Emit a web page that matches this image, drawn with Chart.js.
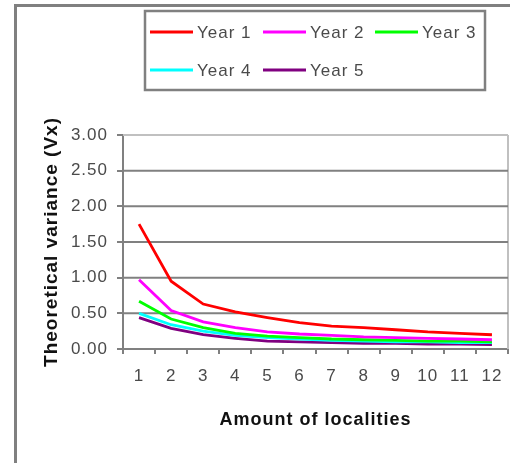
<!DOCTYPE html>
<html><head><meta charset="utf-8">
<script src="https://cdn.jsdelivr.net/npm/chart.js@4/dist/chart.umd.min.js"></script>
<style>html,body{margin:0;padding:0;background:#fff;overflow:hidden}#wrap{position:relative;width:510px;height:463px}</style>
</head><body><div id="wrap"><canvas id="c" width="510" height="463"></canvas></div>
<script>
const categories = ['1','2','3','4','5','6','7','8','9','10','11','12'];
const seriesNames = ['Year 1','Year 2','Year 3','Year 4','Year 5'];
const year1 = [1.75, 0.95, 0.63, 0.52, 0.44, 0.37, 0.32, 0.30, 0.27, 0.24, 0.22, 0.20];
const year2 = [0.97, 0.54, 0.38, 0.30, 0.24, 0.21, 0.19, 0.17, 0.16, 0.15, 0.14, 0.13];
const year3 = [0.67, 0.42, 0.30, 0.22, 0.18, 0.16, 0.14, 0.13, 0.12, 0.11, 0.11, 0.10];
const year4 = [0.50, 0.34, 0.25, 0.19, 0.16, 0.14, 0.12, 0.11, 0.10, 0.10, 0.09, 0.09];
const year5 = [0.44, 0.29, 0.20, 0.15, 0.11, 0.10, 0.09, 0.08, 0.08, 0.07, 0.07, 0.06];
const seriesValues = [year1, year2, year3, year4, year5];
const seriesColors = ['#ff0000','#ff00ff','#00ff00','#00ffff','#800080'];
const yMin = 0, yMax = 3, yStep = 0.5;
const gridValues = [0.5, 1.0, 1.5, 2.0, 2.5, 3.0];
const xTitle = 'Amount of localities';
const yTitle = 'Theoretical variance (Vx)';

const F = '"Liberation Sans", Arial, sans-serif';
const TXT = '#4a4a4a';

const spacing = {
  id: 'spacing',
  beforeUpdate(chart){ chart.ctx.letterSpacing = '1px'; },
  beforeLayout(chart){ chart.ctx.letterSpacing = '1px'; },
  beforeDraw(chart){ chart.ctx.letterSpacing = '1px'; }
};

const frame = {
  id: 'frame',
  beforeDraw(chart){
    const c = chart.ctx;
    c.save();
    c.fillStyle = '#fff';
    c.fillRect(0, 0, chart.width, chart.height);
    c.strokeStyle = '#808080';
    c.lineWidth = 3;
    c.strokeRect(15.5, 5.5, 700, 700);
    c.restore();
  }
};

const legendBox = {
  id: 'legendBox',
  afterDraw(chart){
    const c = chart.ctx;
    c.save();
    c.strokeStyle = '#808080';
    c.lineWidth = 2.5;
    c.strokeRect(145, 11, 340, 79);
    const cols = [150, 263, 375];
    const rows = [32, 70];
    c.font = '17px ' + F;
    c.textBaseline = 'middle';
    c.textAlign = 'left';
    chart.data.datasets.slice(0, seriesNames.length).forEach((ds, i) => {
      const x = cols[i % 3], y = rows[Math.floor(i / 3)];
      c.strokeStyle = ds.borderColor;
      c.lineWidth = 3;
      c.beginPath(); c.moveTo(x, y); c.lineTo(x + 43, y); c.stroke();
      c.fillStyle = TXT;
      c.fillText(ds.label, x + 47, y + 1);
    });
    c.restore();
  }
};

const seriesDatasets = seriesNames.map((n, i) => ({
  label: n, data: seriesValues[i], xAxisID: 'x', order: 0,
  borderColor: seriesColors[i], backgroundColor: seriesColors[i],
  borderWidth: 2.8, pointRadius: 0, pointHoverRadius: 0, tension: 0, fill: false
}));
// gridlines drawn through the y scale on a hidden 0..1 horizontal helper axis
const gridDatasets = gridValues.map(v => ({
  label: 'grid ' + v, data: [{ x: 0, y: v }, { x: 1, y: v }], xAxisID: 'xg', order: 10,
  borderColor: v === yMax ? '#c0c0c0' : '#808080', borderWidth: 2,
  pointRadius: 0, pointHoverRadius: 0, tension: 0, fill: false, clip: false
}));
const borderDataset = {
  label: 'plot border', data: [{ x: 1, y: yMin }, { x: 1, y: yMax }], xAxisID: 'xg', order: 10,
  borderColor: '#c0c0c0', borderWidth: 2, pointRadius: 0, pointHoverRadius: 0, fill: false, clip: false
};

new Chart(document.getElementById('c'), {
  type: 'line',
  data: { labels: categories, datasets: [...seriesDatasets, ...gridDatasets, borderDataset] },
  options: {
    responsive: false, animation: false, devicePixelRatio: 1,
    layout: { padding: { left: 36, right: 2, top: 135, bottom: 28 } },
    plugins: { legend: { display: false }, tooltip: { enabled: false } },
    scales: {
      x: {
        type: 'category', offset: true,
        grid: { offset: true, drawOnChartArea: false, tickColor: '#808080', lineWidth: 2, tickWidth: 2, tickLength: 5 },
        border: { display: true, color: '#808080', width: 2 },
        ticks: { font: { size: 17, family: F }, color: TXT, padding: 12, maxRotation: 0, autoSkip: false },
        title: { display: true, text: xTitle, font: { size: 18, weight: 'bold', family: F }, color: '#111', padding: { top: 22, bottom: 4 } },
        afterFit: s => { s.height = 86; s.paddingLeft = 0; s.paddingRight = 0; }
      },
      xg: { type: 'linear', min: 0, max: 1, display: false, position: 'bottom' },
      y: {
        min: yMin, max: yMax,
        ticks: { stepSize: yStep, callback: v => Number(v).toFixed(2), font: { size: 17, family: F }, color: TXT, padding: 9 },
        grid: { drawOnChartArea: false, tickColor: '#808080', lineWidth: 2, tickWidth: 2, tickLength: 6 },
        border: { display: true, color: '#808080', width: 2 },
        title: { display: true, text: yTitle, font: { size: 19, weight: 'bold', family: F }, color: '#111', padding: { top: 4, bottom: 4 } },
        afterFit: s => { s.width = 87; }
      }
    }
  },
  plugins: [spacing, frame, legendBox]
});
</script>
</body></html>
